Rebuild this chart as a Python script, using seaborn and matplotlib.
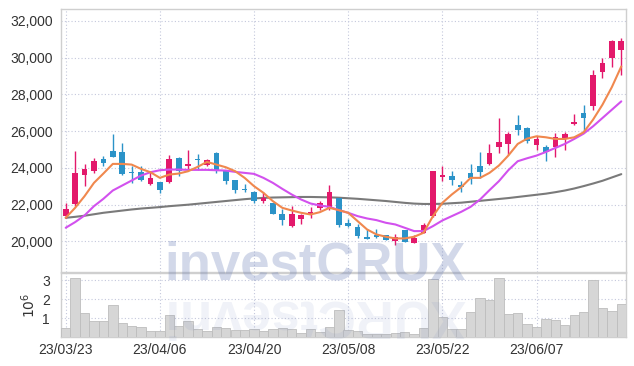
import numpy as np
import pandas as pd
import matplotlib
matplotlib.use('Agg')
import matplotlib.pyplot as plt
import seaborn as sns

# Korean trading days 2023-03-23 .. 2023-06-20 (KRX holidays removed)
holidays = ['2023-05-01', '2023-05-05', '2023-05-29', '2023-06-06']
dates = pd.bdate_range('2023-03-23', '2023-06-20')
dates = dates[~dates.isin(pd.to_datetime(holidays))]

opens = [21378, 22011, 23602, 23819, 24506, 24940, 24886, 23765, 23783, 23150,
         23259, 23223, 24542, 24090, 24452, 24145, 24832, 23819, 23367, 22825,
         22698, 22192, 22102, 21469, 20836, 21198, 21469, 21830, 21776, 22337,
         20980, 20800, 20239, 20348, 20348, 20022, 20601, 19932, 20474, 21378,
         23494, 23584, 23060, 23747, 24127, 24199, 25121, 25284, 26350, 26188,
         25229, 25139, 25121, 25627, 26405, 26983, 27345, 29207, 29948, 30418]
highs = [22100, 24904, 24217, 24524, 24633, 25844, 25356, 24090, 24090, 23819,
         23259, 24705, 24597, 24958, 24777, 24488, 24868, 23910, 23367, 23132,
         22734, 22680, 22102, 21776, 21921, 21469, 21885, 22192, 23096, 22337,
         21198, 20926, 20655, 20655, 20348, 20384, 20601, 20330, 20980, 23819,
         24127, 23819, 23277, 24235, 24868, 25302, 26712, 25971, 26875, 26242,
         25754, 25229, 25898, 25935, 26929, 27399, 29297, 29966, 30961, 31051]
lows = [21290, 21920, 23006, 23729, 24090, 24578, 23638, 23186, 23277, 23078,
        22644, 23186, 23548, 23910, 23873, 24090, 23729, 23132, 22644, 22680,
        22065, 22065, 21469, 20872, 20800, 20926, 21288, 21704, 21704, 20800,
        20800, 20203, 20131, 20203, 20077, 19787, 19968, 19896, 20438, 21342,
        23313, 23078, 22680, 23150, 23458, 24145, 24814, 24687, 25808, 25356,
        24976, 24398, 24597, 24994, 26332, 26025, 27164, 28882, 29478, 29062]
closes = [21740, 23729, 23946, 24398, 24253, 24578, 23693, 23711, 23331, 23458,
          22825, 24506, 23819, 24235, 24416, 24434, 23910, 23277, 22789, 22789,
          22192, 22391, 21469, 21161, 21469, 21415, 21595, 22065, 22680, 20872,
          20836, 20294, 20131, 20239, 20077, 20257, 19968, 20203, 20872, 23819,
          23638, 23331, 22951, 23458, 23765, 24814, 25428, 25862, 26079, 25464,
          25573, 24868, 25700, 25862, 26495, 26694, 29044, 29713, 30907, 30907]

# volume in millions of shares
volume = [0.46, 3.09, 1.25, 0.82, 0.82, 1.67, 0.72, 0.56, 0.51, 0.30,
          0.30, 1.14, 0.56, 0.82, 0.40, 0.30, 0.51, 0.46, 0.35, 0.35,
          0.40, 0.30, 0.40, 0.46, 0.40, 0.19, 0.40, 0.25, 0.54, 1.40,
          0.35, 0.30, 0.14, 0.14, 0.14, 0.19, 0.25, 0.14, 0.46, 3.04,
          1.04, 0.40, 0.40, 1.30, 2.04, 1.93, 3.09, 1.19, 1.25, 0.67,
          0.51, 0.93, 0.88, 0.61, 1.14, 1.30, 2.98, 1.51, 1.35, 1.72]

ma5 = [21288, 21830, 22463, 23186, 23693, 24217, 24217, 24180, 23946, 23765,
       23458, 23638, 23693, 23819, 24054, 24325, 24180, 24036, 23819, 23458,
       23006, 22644, 22192, 21830, 21686, 21559, 21469, 21595, 21830, 21704,
       21559, 21107, 20655, 20384, 20257, 20167, 20167, 20257, 20474, 21378,
       22102, 22554, 22951, 23458, 23458, 23729, 24127, 24669, 25302, 25591,
       25718, 25663, 25573, 25573, 25663, 25935, 26622, 27435, 28393, 29514]
ma10 = [20746, 21053, 21415, 21921, 22319, 22771, 23042, 23313, 23584, 23765,
        23873, 23910, 23910, 23892, 23892, 23892, 23873, 23855, 23783, 23729,
        23675, 23458, 23186, 22861, 22554, 22282, 22065, 21957, 21885, 21704,
        21559, 21378, 21252, 21161, 21017, 20926, 20746, 20565, 20565, 20836,
        21143, 21378, 21613, 21885, 22282, 22789, 23277, 23873, 24362, 24524,
        24669, 24868, 25085, 25302, 25573, 25862, 26260, 26712, 27164, 27616]
ma_long = [21288, 21340, 21400, 21480, 21560, 21620, 21680, 21740, 21790, 21830,
           21870, 21920, 21960, 22000, 22050, 22100, 22150, 22200, 22250, 22300,
           22340, 22370, 22390, 22400, 22410, 22420, 22420, 22410, 22400, 22380,
           22350, 22320, 22280, 22240, 22200, 22150, 22100, 22060, 22040, 22040,
           22050, 22080, 22110, 22160, 22210, 22260, 22310, 22360, 22420, 22480,
           22540, 22600, 22680, 22770, 22880, 23010, 23150, 23300, 23480, 23660]

sns.set_style('white')
plt.rcParams['font.family'] = ['Liberation Sans', 'DejaVu Sans']

df = pd.DataFrame({'open': opens, 'high': highs, 'low': lows, 'close': closes,
                   'volume': volume, 'ma5': ma5, 'ma10': ma10, 'ma_long': ma_long})
df['pos'] = np.arange(len(df))
df['up'] = df['close'] >= df['open']

red, blue = '#e3196b', '#2b93c8'
grid_color = '#c4c8dc'
spine_color = '#cfcfcf'

fig = plt.figure(figsize=(6.34, 3.66), dpi=100)
ax = fig.add_axes([61 / 634, 1 - 272 / 366, 565 / 634, 263 / 366])
ax_vol = fig.add_axes([61 / 634, 1 - 337 / 366, 565 / 634, 64 / 366], sharex=ax)

# candles
colors = np.where(df['up'], red, blue)
ax.vlines(df['pos'], df['low'], df['high'], colors=colors, lw=1, zorder=3)
body_low = df[['open', 'close']].min(axis=1)
body_h = (df['close'] - df['open']).abs().clip(lower=60)
ax.bar(df['pos'], body_h, bottom=body_low, width=0.6, color=colors, lw=0, zorder=4)

# moving averages
sns.lineplot(data=df, x='pos', y='ma_long', color='#7a7a7a', lw=1.5, ax=ax, zorder=2)
sns.lineplot(data=df, x='pos', y='ma10', color='#d251ee', lw=1.5, ax=ax, zorder=5)
sns.lineplot(data=df, x='pos', y='ma5', color='#f0884e', lw=1.5, ax=ax, zorder=5)

# volume
sns.barplot(data=df, x='pos', y='volume', native_scale=True, width=1.0,
            color='#d6d6d6', edgecolor='#bdbdbd', linewidth=0.6, saturation=1,
            ax=ax_vol, zorder=3)

ticks = df['pos'][::10]
ax.set_xlim(-0.5, len(df) - 0.5)
ax.set_ylim(18342, 32636)
ax.set_yticks(range(20000, 32001, 2000))
ax.set_yticklabels([f'{v:,}' for v in range(20000, 32001, 2000)])
ax.set_xticks(ticks)
ax.tick_params(axis='x', labelbottom=False, length=0)
ax.tick_params(axis='y', length=0, pad=6, labelsize=10, labelcolor='#333333')
ax.set_xlabel('')
ax.set_ylabel('')

ax_vol.set_ylim(0, 3.37)
ax_vol.set_yticks([1, 2, 3])
ax_vol.set_xticks(ticks)
ax_vol.set_xticklabels([d.strftime('%y/%m/%d') for d in dates[::10]])
ax_vol.tick_params(axis='both', length=0, labelsize=10, labelcolor='#333333')
ax_vol.tick_params(axis='y', pad=8)
ax_vol.tick_params(axis='x', pad=4)
ax_vol.set_xlabel('')
ax_vol.set_ylabel(r'$10^6$', fontsize=10, color='#333333', labelpad=3)

for a in (ax, ax_vol):
    a.grid(True, ls=(0, (1, 2)), color=grid_color, lw=0.8, zorder=0)
    a.set_axisbelow(True)
    for s in a.spines.values():
        s.set_color(spine_color)
        s.set_linewidth(1)

# watermark and its faded reflection
wm_family = ['Liberation Sans', 'DejaVu Sans']
fig.text(0.497, 1 - 279 / 366, 'investCRUX', ha='center', va='baseline',
         fontsize=38, fontweight='bold', color='#6c80b9', alpha=0.3, zorder=10,
         family=wm_family)
fig.text(0.497, 1 - 290 / 366, 'XURCtsevni', ha='center', va='top',
         fontsize=38, fontweight='bold', color='#6c80b9', alpha=0.1, zorder=10,
         rotation=180, family=wm_family)

fig.savefig('out.png', dpi=100)
